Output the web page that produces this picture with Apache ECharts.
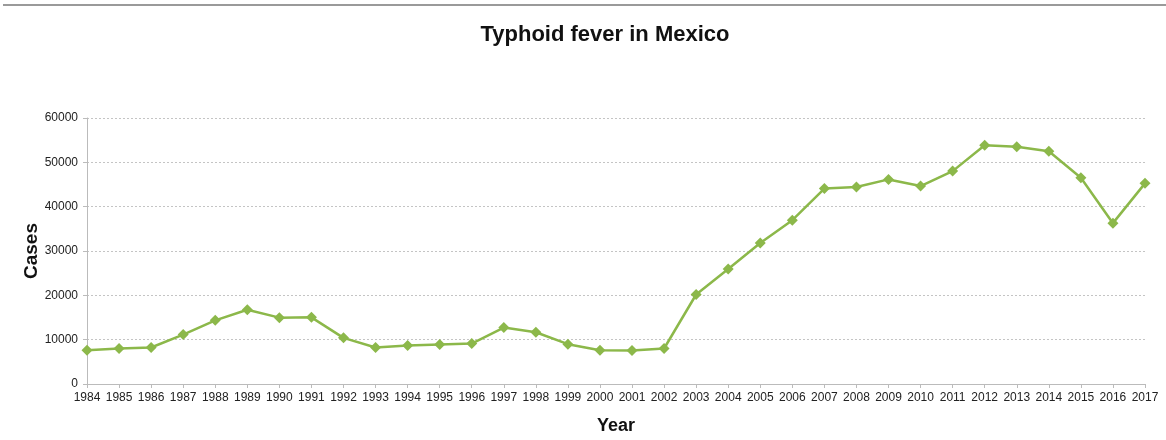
<!DOCTYPE html>
<html>
<head>
<meta charset="utf-8">
<script src="https://cdn.jsdelivr.net/npm/echarts@6/dist/echarts.min.js"></script>
<style>
  html, body { margin: 0; padding: 0; background: #fff; }
  #main { width: 1166px; height: 440px; }
</style>
</head>
<body>
<div id="main"></div>
<script>
let years = ['1984', '1985', '1986', '1987', '1988', '1989', '1990', '1991', '1992', '1993',
    '1994', '1995', '1996', '1997', '1998', '1999', '2000', '2001', '2002', '2003',
    '2004', '2005', '2006', '2007', '2008', '2009', '2010', '2011', '2012', '2013',
    '2014', '2015', '2016', '2017'];
let cases = [7630, 8010, 8230, 11150, 14360, 16760, 14970, 15030, 10410, 8230,
    8680, 8910, 9130, 12720, 11670, 8980, 7630, 7560, 8010, 20190,
    25960, 31800, 36960, 44070, 44430, 46150, 44650, 48020, 53850, 53490,
    52510, 46540, 36280, 45260];

let myChart = echarts.init(document.getElementById('main'));
let option = {
    backgroundColor: '#fff',
    title: {
        text: 'Typhoid fever in Mexico',
        left: 600,
        textAlign: 'center',
        top: 19,
        textStyle: {
            fontFamily: '"Liberation Sans Narrow", "Liberation Sans", sans-serif',
            fontWeight: 'bold',
            fontSize: 22,
            color: '#111'
        }
    },
    // thin gray rule at the very top
    graphic: [{
        type: 'line',
        shape: { x1: 3, y1: 5, x2: 1166, y2: 5 },
        style: { stroke: '#9a9a9a', lineWidth: 2 }
    }],
    grid: {
        left: 87,
        right: 21,
        top: 118,
        bottom: 54
    },
    xAxis: {
        type: 'category',
        data: years,
        boundaryGap: false,
        name: 'Year',
        nameLocation: 'middle',
        nameGap: 33,
        nameTextStyle: {
            fontFamily: '"Liberation Sans", sans-serif',
            fontWeight: 'bold',
            fontSize: 18,
            color: '#111'
        },
        axisLine: { lineStyle: { color: '#bbb' } },
        axisTick: { show: true, length: 4, lineStyle: { color: '#bbb' } },
        axisLabel: {
            interval: 0,
            margin: 8,
            fontFamily: '"Liberation Sans", sans-serif',
            fontSize: 12,
            color: '#222'
        },
        splitLine: { show: false }
    },
    yAxis: {
        type: 'value',
        min: 0,
        max: 60000,
        interval: 10000,
        name: 'Cases',
        nameLocation: 'middle',
        nameGap: 46,
        nameMoveOverlap: false,
        nameTextStyle: {
            fontFamily: '"Liberation Sans", sans-serif',
            fontWeight: 'bold',
            fontSize: 19,
            color: '#111'
        },
        axisLine: { show: true, lineStyle: { color: '#bbb' } },
        axisTick: { show: true, length: 4, lineStyle: { color: '#bbb' } },
        axisLabel: {
            margin: 9,
            formatter: function (v) { return String(v); },
            fontFamily: '"Liberation Sans", sans-serif',
            fontSize: 12,
            color: '#222'
        },
        splitLine: { lineStyle: { color: '#c4c4c4', type: [2, 2] } }
    },
    series: [{
        name: 'Cases',
        type: 'line',
        data: cases,
        symbol: 'diamond',
        symbolSize: 11,
        lineStyle: { color: '#8cb84a', width: 2.5 },
        itemStyle: { color: '#8cb84a' },
        animation: false
    }]
};
myChart.setOption(option);
</script>
</body>
</html>
